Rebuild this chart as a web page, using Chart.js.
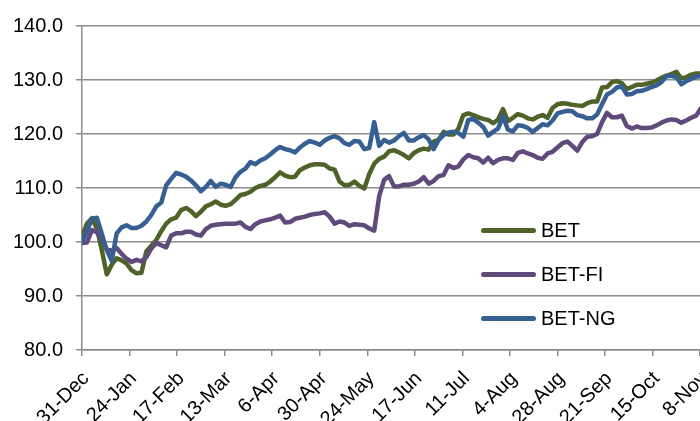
<!DOCTYPE html>
<html><head><meta charset="utf-8">
<script src="https://cdn.jsdelivr.net/npm/chart.js@4.4.0/dist/chart.umd.min.js"></script>
<style>
html,body{margin:0;padding:0;background:#fff;overflow:hidden;width:700px;height:421px;}
#wrap{position:absolute;left:0;top:0;width:712px;height:421px;}
#legend{position:absolute;left:0;top:0;font-family:"Liberation Sans",Arial,sans-serif;font-size:20px;color:#000;}
.item{position:absolute;left:481px;height:24px;display:flex;align-items:center;white-space:nowrap;}
.sw{width:55px;height:5px;border-radius:3px;margin-right:5px;}
</style></head><body>
<div id="wrap"><canvas id="c"></canvas></div>
<div id="legend"></div>
<script>
// day offsets from 31-Dec
const days=[0,2.5,5,7.5,10,12.5,15,17.5,20,22.5,25,27.5,30,32.5,35,37.5,40,42.5,45,47.5,50,52.5,55,57.5,60,62.5,65,67.5,70,72.5,75,77.5,80,82.5,85,87.5,90,92.5,95,97.5,100,102.5,105,107.5,110,112.5,115,117.5,120,122.5,125,127.5,130,132.5,135,137.5,140,142.5,145,147.5,150,152.5,155,157.5,160,162.5,165,167.5,170,172.5,175,177.5,180,182.5,185,187.5,190,192.5,195,197.5,200,202.5,205,207.5,210,212.5,215,217.5,220,222.5,225,227.5,230,232.5,235,237.5,240,242.5,245,247.5,250,252.5,255,257.5,260,262.5,265,267.5,270,272.5,275,277.5,280,282.5,285,287.5,290,292.5,295,297.5,300,302.5,305,307.5,310,312.5];
const seriesNames=['BET','BET-FI','BET-NG'];
const seriesColors=['#4F6228','#604A7B','#376092'];
const bet=[101,103.4,104.4,102.5,98.5,94,95.8,97,96.6,96,
94.8,94.2,94.3,98.3,99.3,100.4,102,103.4,104.2,104.5,
105.9,106.3,105.7,104.8,105.6,106.6,107,107.5,106.9,106.7,
107,107.8,108.7,108.9,109.3,110,110.4,110.6,111.2,112,
112.9,112.3,112,112.1,113.3,113.8,114.2,114.4,114.4,114.3,
113.6,113.4,111.2,110.5,110.6,111.2,110.4,109.9,112.6,114.5,
115.4,115.8,116.8,117,116.6,116.1,115.5,116.5,117,117.3,
117.1,118.6,118.9,120.4,119.9,119.9,121,123.5,123.8,123.5,
123.1,122.8,122.6,122,122.7,124.6,122.4,123,123.7,123.4,
122.9,122.7,123.2,123.5,123,124.8,125.5,125.7,125.6,125.4,
125.3,125.2,125.7,126,126,128.6,128.7,129.6,129.8,129.4,
128.3,128.7,129.1,129.1,129.3,129.5,129.9,130.4,130.8,131.1,
131.5,130.3,130.5,131,131.2,131.2];
const betFI=[99.8,99.9,102.2,101.8,100.5,98.6,98.4,98.9,97.8,96.9,
96.3,96.7,96.4,97.2,98.8,99.8,99.4,99,101.2,101.6,
101.6,101.9,101.9,101.4,101.2,102.4,103,103.2,103.3,103.4,
103.4,103.4,103.6,102.8,102.4,103.3,103.8,104,104.2,104.5,
104.9,103.6,103.7,104.3,104.5,104.7,105,105.2,105.3,105.5,
104.7,103.4,103.8,103.6,103,103.3,103.2,103.1,102.5,102.1,
108.5,111.5,112.2,110.3,110.3,110.6,110.6,110.8,111.2,112,
110.8,111.3,112.2,112.4,114.2,113.7,114,115.3,116.1,115.7,
115.5,114.7,115.6,114.6,115.2,115.5,115.5,115.2,116.5,116.8,
116.4,116.1,115.6,115.4,116.4,116.7,117.5,118.3,118.6,117.8,
116.9,118.5,119.5,119.6,120,122.2,123.9,123.1,123.1,123.4,
121.5,121,121.4,121.1,121.1,121.2,121.6,122.1,122.5,122.7,
122.6,122.1,122.5,123,123.4,124.8];
const betNG=[100,102,104.3,104.5,101.5,98.5,96.5,101.6,102.7,103.1,
102.6,102.6,103,103.8,105,106.6,107.3,110.5,111.7,112.8,
112.5,112.1,111.4,110.5,109.4,110.2,111.3,110.2,110.8,110.6,
110.2,112,113,113.6,114.8,114.4,115.1,115.5,116.2,117,
117.6,117.2,117,116.6,117.5,118.2,118.7,118.4,118,118.8,
119.3,119.6,119.2,118.3,118,118.7,118.6,117.2,117.4,122.2,
117.8,118.9,118.4,118.8,119.6,120.2,118.8,118.8,119.4,119.8,
119,117.2,118.9,119.8,120.3,120.4,120.2,119.5,122.6,122.8,
122.1,121.3,119.7,120.4,121,123.3,120.8,120.5,121.6,121.5,
121.1,120.4,121.1,121.8,121.6,122.5,123.8,124.1,124.3,124.2,
123.5,123.3,122.9,122.9,123.6,125.5,127.3,127.8,128.6,128.8,
127.3,127.4,127.9,128,128.3,128.7,129,129.6,130.7,130.8,
130.5,129.2,129.8,130.2,130.6,130.8];
const tickLabels=['31-Dec','24-Jan','17-Feb','13-Mar','6-Apr','30-Apr','24-May','17-Jun','11-Jul','4-Aug','28-Aug','21-Sep','15-Oct','8-Nov'];
const tickDays=[0,24,48,72,96,120,144,168,192,216,240,264,288,312];
const yMin=80, yMax=140, yStep=10;

const seriesValues=[bet,betFI,betNG];
const font={family:'"Liberation Sans", Arial, sans-serif',size:20};
const gridColor='#8c8c8c';

new Chart(document.getElementById('c'),{
  type:'line',
  data:{datasets:seriesNames.map((n,i)=>({
    label:n,
    data:days.map((d,j)=>({x:d,y:seriesValues[i][j]})),
    borderColor:seriesColors[i],
    backgroundColor:seriesColors[i],
    borderWidth:4.5,
    pointRadius:0,
    tension:0,
    borderJoinStyle:'round',
    borderCapStyle:'round',
    order:3-i
  }))},
  options:{
    responsive:true,maintainAspectRatio:false,animation:false,
    layout:{padding:{top:26,left:0,right:0,bottom:0}},
    plugins:{legend:{display:false},tooltip:{enabled:false}},
    scales:{
      x:{type:'linear',min:0,max:318,
        afterBuildTicks:s=>{s.ticks=tickDays.map(v=>({value:v}));},
        afterFit:s=>{s.height=71;s.paddingLeft=0;s.paddingRight=0;},
        ticks:{autoSkip:false,maxRotation:45,minRotation:45,color:'#000',font:font,padding:11,labelOffset:4,
          callback:(v)=>{const i=tickDays.indexOf(v);return i>=0?tickLabels[i]:'';}},
        grid:{drawOnChartArea:false,drawTicks:true,tickLength:6,color:gridColor,lineWidth:1.5},
        border:{color:gridColor,width:1.5}
      },
      y:{min:yMin,max:yMax,
        afterFit:s=>{s.width=82;s.paddingTop=0;s.paddingBottom=0;},
        ticks:{stepSize:yStep,color:'#000',font:font,padding:13,callback:v=>Number(v).toFixed(1)},
        grid:{color:gridColor,lineWidth:1.5,tickLength:6,drawTicks:true},
        border:{color:gridColor,width:1.5}
      }
    }
  }
});

const lg=document.getElementById('legend');
const rowsY=[230,274.7,318.7];
seriesNames.forEach((n,i)=>{
  const d=document.createElement('div');d.className='item';d.style.top=(rowsY[i]-12)+'px';
  const sw=document.createElement('span');sw.className='sw';sw.style.background=seriesColors[i];
  const t=document.createElement('span');t.textContent=n;
  d.appendChild(sw);d.appendChild(t);lg.appendChild(d);
});
</script>
</body></html>
